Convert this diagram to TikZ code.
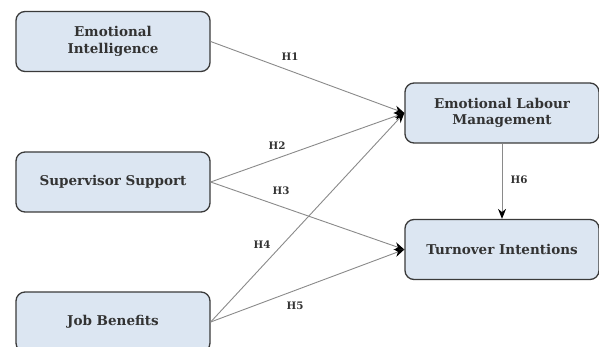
\documentclass[tikz,border=0pt]{standalone}
\usepackage{fontspec}
\setmainfont{DejaVu Serif}
\usetikzlibrary{arrows.meta}
\definecolor{boxfill}{HTML}{DCE6F2}
\definecolor{boxline}{HTML}{3A3A3A}
\definecolor{linkgray}{HTML}{8A8A8A}
\definecolor{txt}{HTML}{333333}
\begin{document}
\begin{tikzpicture}[x=1pt,y=-1pt,
  construct/.style={draw=boxline, line width=1.3pt, fill=boxfill, rounded corners=9pt,
    minimum width=194pt, minimum height=60pt, align=center, text=txt,
    font=\bfseries\fontsize{13.5}{16.5}\selectfont, inner sep=0pt},
  link/.style={draw=linkgray, line width=0.9pt, -{Stealth[length=10pt,width=8pt,black]}},
  hyp/.style={text=txt, font=\bfseries\fontsize{10.3}{12}\selectfont, inner sep=1pt}]
  \useasboundingbox (0,0) rectangle (599,347);
  \begin{scope}
    \clip (0,0) rectangle (599,347);
    \node[construct] (ei) at (113,41.5) {Emotional\\Intelligence};
    \node[construct] (ss) at (113,182) {Supervisor Support};
    \node[construct] (jb) at (113,322) {Job Benefits};
    \node[construct] (elm) at (502,113) {Emotional Labour\\Management};
    \node[construct] (ti) at (502,249.5) {Turnover Intentions};
  \end{scope}
  \draw[link] (ei.east) -- (elm.west);
  \draw[link] (ss.east) -- (elm.west);
  \draw[link] (ss.east) -- (ti.west);
  \draw[link] (jb.east) -- (elm.west);
  \draw[link] (jb.east) -- (ti.west);
  \draw[link] (elm.south) -- (ti.north);
  \node[hyp] (h1) at (290,57) {H1};
  \node[hyp] (h2) at (277,146) {H2};
  \node[hyp] (h3) at (281,191) {H3};
  \node[hyp] (h4) at (262,245) {H4};
  \node[hyp] (h5) at (295,306) {H5};
  \node[hyp] (h6) at (519,180) {H6};
\end{tikzpicture}
\end{document}
